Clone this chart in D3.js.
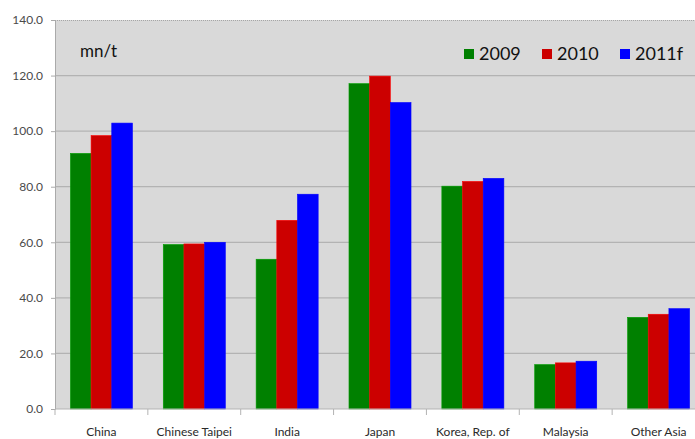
<!DOCTYPE html>
<html lang="en">
<head>
<meta charset="UTF-8">
<title>mn/t by economy</title>
<script src="https://d3js.org/d3.v7.min.js"></script>
<style>
    body { margin: 0; padding: 0; background: #fff; }
    svg { display: block; }
    text { font-family: Lato, "Open Sans", sans-serif; }
</style>
</head>
<body>
<div id="chart"></div>
<script>
    const categories = ["China", "Chinese Taipei", "India", "Japan", "Korea, Rep. of", "Malaysia", "Other Asia"];
    const years = ["2009", "2010", "2011f"];
    const v2009 = [92.0, 59.2, 53.9, 117.1, 80.2, 16.0, 33.0];
    const v2010 = [98.4, 59.4, 67.9, 119.8, 81.9, 16.6, 34.1];
    const v2011 = [102.9, 60.0, 77.3, 110.3, 83.0, 17.2, 36.1];
    const yTicks = [0, 20, 40, 60, 80, 100, 120, 140];
    const colors = ["#008000", "#cc0000", "#0000ff"];

    const series = [v2009, v2010, v2011];
    const W = 695, H = 439;
    const margin = { top: 20, left: 55, bottom: 30 };
    const plotW = 650; // runs past the right edge, as in the original
    const plotH = H - margin.top - margin.bottom;

    const svg = d3.select("#chart").append("svg")
        .attr("width", W)
        .attr("height", H);

    const g = svg.append("g")
        .attr("transform", `translate(${margin.left},${margin.top})`);

    const x = d3.scaleBand().domain(categories).range([0, plotW]).paddingInner(0).paddingOuter(0);
    const inner = d3.scaleBand().domain(years).range([x.bandwidth() * 0.166, x.bandwidth() * 0.834]);
    const y = d3.scaleLinear().domain([0, 140]).range([plotH, 0]);

    // plot background
    g.append("rect")
        .attr("width", plotW).attr("height", plotH)
        .attr("fill", "#d9d9d9");

    // gridlines
    g.selectAll(".grid").data(yTicks.filter(t => t > 0 && t < 140))
        .enter().append("line")
        .attr("x1", 0).attr("x2", plotW)
        .attr("y1", d => y(d)).attr("y2", d => y(d))
        .attr("stroke", "#b3b3b3").attr("stroke-width", 1.3);

    // top border
    g.append("line")
        .attr("x1", 0).attr("x2", plotW).attr("y1", 0.5).attr("y2", 0.5)
        .attr("stroke", "#a6a6a6").attr("stroke-width", 1).attr("stroke-dasharray", "1,1");

    // bars
    years.forEach((yr, i) => {
        g.selectAll(".bar" + i).data(series[i])
            .enter().append("rect")
            .attr("x", (d, j) => x(categories[j]) + inner(yr))
            .attr("width", inner.bandwidth())
            .attr("y", d => y(d))
            .attr("height", d => plotH - y(d))
            .attr("fill", colors[i])
            .attr("stroke", d3.color(colors[i]).brighter(0.6))
            .attr("stroke-width", 0.6);
    });

    // y axis
    const yAxis = g.append("g")
        .call(d3.axisLeft(y).tickValues(yTicks).tickFormat(d3.format(".1f")).tickSize(4).tickPadding(8));
    yAxis.select(".domain").attr("stroke", "#aaa");
    yAxis.selectAll(".tick line").attr("stroke", "#aaa");
    yAxis.selectAll("text").attr("fill", "#4a4a4a").style("font-size", "12px");

    // x axis
    const xg = g.append("g").attr("transform", `translate(0,${plotH})`);
    xg.append("line").attr("x1", 0).attr("x2", plotW).attr("stroke", "#b3b3b3");
    xg.selectAll(".xt").data(categories)
        .enter().append("line")
        .attr("x1", d => x(d)).attr("x2", d => x(d))
        .attr("y1", 0).attr("y2", 6)
        .attr("stroke", "#b3b3b3");
    xg.selectAll(".xl").data(categories)
        .enter().append("text")
        .attr("x", d => x(d) + x.bandwidth() / 2)
        .attr("y", 27)
        .attr("text-anchor", "middle")
        .attr("fill", "#2a2a2a")
        .style("font-size", "12px")
        .text(d => d);

    // unit label
    g.append("text")
        .attr("x", 25).attr("y", 37)
        .style("font-size", "17px").attr("fill", "#111")
        .text("mn/t");

    // legend
    const legX = [409, 487, 565];
    const leg = g.selectAll(".leg").data(years).enter().append("g")
        .attr("transform", (d, i) => `translate(${legX[i]},29)`);
    leg.append("rect").attr("width", 10).attr("height", 10)
        .attr("fill", (d, i) => colors[i]);
    leg.append("text").attr("x", 15).attr("y", 11)
        .style("font-size", "18px").attr("fill", "#111")
        .text(d => d);
</script>
</body>
</html>
